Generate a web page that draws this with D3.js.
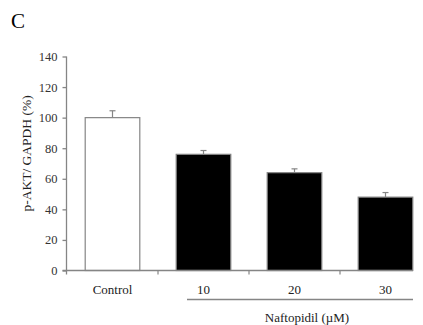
<!DOCTYPE html>
<html>
<head>
<meta charset="utf-8">
<script src="https://cdn.jsdelivr.net/npm/d3@7"></script>
<style>
  body { margin: 0; background: #fff; }
  text { font-family: "Liberation Serif", "Times New Roman", serif; }
</style>
</head>
<body>
<div id="chart"></div>
<script>
// data
const groups = ["Control", "10", "20", "30"];
const means = [100, 76, 64, 48];
const errors = [4.5, 2.5, 2.5, 3];
const fills = ["#fff", "#000", "#000", "#000"];
const yTicks = [0, 20, 40, 60, 80, 100, 120, 140];

const width = 423, height = 325;
const axisColor = "#858585";

const svg = d3.select("#chart").append("svg")
    .attr("width", width)
    .attr("height", height);

const x = d3.scaleBand()
    .domain(groups)
    .range([67, 431])
    .paddingInner(0.4)
    .paddingOuter(0.2);

const y = d3.scaleLinear([0, 140], [270.5, 56.5]);

// panel letter
svg.append("text")
    .attr("x", 11).attr("y", 28)
    .style("font-size", "21px")
    .text("C");

// bars
svg.selectAll(".bar")
    .data(groups)
    .enter()
    .append("rect")
    .attr("class", "bar")
    .attr("x", d => x(d))
    .attr("y", (d, i) => y(means[i]))
    .attr("width", x.bandwidth())
    .attr("height", (d, i) => y(0) - y(means[i]))
    .style("fill", (d, i) => fills[i])
    .style("stroke", axisColor)
    .style("stroke-width", 1.2);

// error bars (upper only)
const err = svg.selectAll(".err")
    .data(groups)
    .enter()
    .append("g")
    .attr("class", "err")
    .style("stroke", axisColor)
    .style("stroke-width", 1.2);

err.append("line")
    .attr("x1", d => x(d) + x.bandwidth() / 2)
    .attr("x2", d => x(d) + x.bandwidth() / 2)
    .attr("y1", (d, i) => y(means[i]))
    .attr("y2", (d, i) => y(means[i] + errors[i]));

err.append("line")
    .attr("x1", d => x(d) + x.bandwidth() / 2 - 3)
    .attr("x2", d => x(d) + x.bandwidth() / 2 + 3)
    .attr("y1", (d, i) => y(means[i] + errors[i]))
    .attr("y2", (d, i) => y(means[i] + errors[i]));

// y axis
const yAxis = d3.axisLeft(y)
    .tickValues(yTicks)
    .tickSizeInner(4)
    .tickSizeOuter(0)
    .tickPadding(5);

const yAxisDraw = svg.append("g")
    .attr("transform", "translate(66.5,0)")
    .call(yAxis)
    .attr("font-family", "Liberation Serif")
    .attr("font-size", 12.5);

yAxisDraw.select(".domain").style("stroke", axisColor).style("stroke-width", 1.3)
    .attr("d", `M0,${y(140)}V${y(0) + 4}`);
yAxisDraw.selectAll(".tick line").style("stroke", axisColor).style("stroke-width", 1.3);
yAxisDraw.selectAll(".tick text")
    .style("fill", "#333")
    .style("font-family", "'Liberation Serif', serif");

// x axis line with ticks between groups
svg.append("line")
    .attr("x1", 62.5).attr("x2", 413)
    .attr("y1", y(0)).attr("y2", y(0))
    .style("stroke", axisColor)
    .style("stroke-width", 1.3);

svg.selectAll(".xtick")
    .data(groups.slice(1))
    .enter()
    .append("line")
    .attr("class", "xtick")
    .attr("x1", d => x(d) - x.step() * x.paddingInner() / 2)
    .attr("x2", d => x(d) - x.step() * x.paddingInner() / 2)
    .attr("y1", y(0))
    .attr("y2", y(0) + 4)
    .style("stroke", axisColor)
    .style("stroke-width", 1.2);

// group labels
svg.selectAll(".xlab")
    .data(groups)
    .enter()
    .append("text")
    .attr("class", "xlab")
    .attr("x", d => x(d) + x.bandwidth() / 2)
    .attr("y", 294)
    .attr("text-anchor", "middle")
    .style("font-size", "13px")
    .style("fill", "#222")
    .text(d => d);

// bracket under the treatment groups
svg.append("line")
    .attr("x1", 187).attr("x2", 413)
    .attr("y1", 299.5).attr("y2", 299.5)
    .style("stroke", axisColor)
    .style("stroke-width", 1.3);

svg.append("text")
    .attr("x", 307).attr("y", 322)
    .attr("text-anchor", "middle")
    .style("font-size", "13px")
    .style("fill", "#222")
    .text("Naftopidil (\u00b5M)");

// y label
svg.append("text")
    .attr("transform", `translate(31,${(y(0) + y(140)) / 2 - 10}) rotate(-90)`)
    .attr("text-anchor", "middle")
    .style("font-size", "13.5px")
    .style("fill", "#222")
    .text("p-AKT/ GAPDH (%)");
</script>
</body>
</html>
